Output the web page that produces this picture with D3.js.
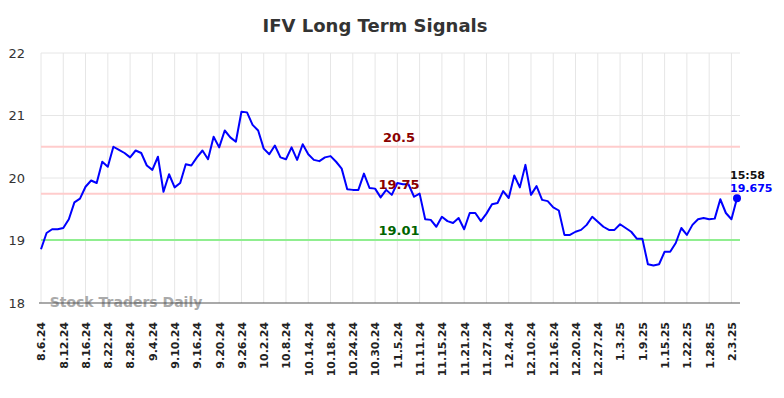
<!DOCTYPE html>
<html>
<head>
<meta charset="utf-8">
<script src="https://cdn.jsdelivr.net/npm/d3@7"></script>
<style>
  body { margin: 0; background: #fff; }
  text { font-family: "DejaVu Sans", sans-serif; }
</style>
</head>
<body>
<div id="chart"></div>
<script>
(function () {

    // tick labels, one every 4 trading days
    var tickLabels = ["8.6.24", "8.12.24", "8.16.24", "8.22.24", "8.28.24", "9.4.24", "9.10.24", "9.16.24",
        "9.20.24", "9.26.24", "10.2.24", "10.8.24", "10.14.24", "10.18.24", "10.24.24", "10.30.24",
        "11.5.24", "11.11.24", "11.15.24", "11.21.24", "11.27.24", "12.4.24", "12.10.24", "12.16.24",
        "12.20.24", "12.27.24", "1.3.25", "1.9.25", "1.15.25", "1.22.25", "1.28.25", "2.3.25"];

    // daily closing prices
    var prices = [
        18.86, 19.12, 19.18, 19.18, 19.20, 19.34, 19.61, 19.67, 19.86, 19.96,
        19.92, 20.26, 20.18, 20.50, 20.45, 20.40, 20.33, 20.44, 20.40, 20.20,
        20.13, 20.34, 19.78, 20.06, 19.85, 19.92, 20.22, 20.20, 20.33, 20.44,
        20.30, 20.66, 20.49, 20.76, 20.65, 20.58, 21.06, 21.05, 20.85, 20.76,
        20.47, 20.38, 20.52, 20.33, 20.30, 20.49, 20.29, 20.54, 20.38, 20.29,
        20.27, 20.33, 20.35, 20.26, 20.15, 19.82, 19.81, 19.81, 20.07, 19.84,
        19.83, 19.69, 19.81, 19.73, 19.92, 19.90, 19.90, 19.70, 19.75, 19.34,
        19.33, 19.22, 19.38, 19.31, 19.28, 19.36, 19.18, 19.44, 19.44, 19.31,
        19.43, 19.58, 19.60, 19.79, 19.68, 20.04, 19.85, 20.21, 19.73, 19.87,
        19.65, 19.63, 19.53, 19.48, 19.09, 19.09, 19.14, 19.17, 19.25, 19.38,
        19.30, 19.22, 19.17, 19.17, 19.26, 19.20, 19.14, 19.03, 19.03, 18.62,
        18.60, 18.62, 18.82, 18.82, 18.96, 19.20, 19.09, 19.25, 19.34, 19.36,
        19.34, 19.35, 19.66, 19.44, 19.34, 19.675
    ];

    // signal levels
    var levels = [
        { value: 20.5, label: "20.5", line: "#ffcccc", text: "#8b0000" },
        { value: 19.75, label: "19.75", line: "#ffcccc", text: "#8b0000" },
        { value: 19.01, label: "19.01", line: "#90ee90", text: "#006400" }
    ];

    var yTicks = [18, 19, 20, 21, 22];
    var lastTime = "15:58";

    var W = 784, H = 398;
    var left = 41, right = 740, top = 53, bottom = 303;

    var svg = d3.select("#chart")
        .append("svg")
        .attr("width", W)
        .attr("height", H);

    var x = d3.scaleLinear()
        .domain([0, prices.length - 1])
        .range([left, 737]);

    var y = d3.scaleLinear()
        .domain([18, 22])
        .range([bottom, top]);

    var tickIdx = tickLabels.map(function (d, i) { return i * 4; });

    // vertical grid
    svg.append("g")
        .selectAll("line")
        .data(tickIdx)
        .enter()
        .append("line")
        .attr("x1", function (d) { return x(d); })
        .attr("x2", function (d) { return x(d); })
        .attr("y1", top)
        .attr("y2", bottom)
        .attr("stroke", "#e6e6e6")
        .attr("stroke-width", 1);

    // horizontal grid
    svg.append("g")
        .selectAll("line")
        .data(yTicks.slice(1))
        .enter()
        .append("line")
        .attr("x1", left)
        .attr("x2", right)
        .attr("y1", function (d) { return y(d); })
        .attr("y2", function (d) { return y(d); })
        .attr("stroke", "#e6e6e6")
        .attr("stroke-width", 1);

    // y axis labels
    var yAxis = svg.append("g")
        .attr("transform", "translate(" + (left - 14) + ",0)")
        .call(d3.axisLeft(y).tickValues(yTicks).tickSize(0).tickFormat(d3.format("d")));
    yAxis.select(".domain").remove();
    yAxis.selectAll("text")
        .attr("fill", "#333")
        .style("font-size", "13px")
        .attr("x", -2);

    // x axis labels
    var xAxis = svg.append("g")
        .attr("transform", "translate(0," + bottom + ")")
        .call(d3.axisBottom(x).tickValues(tickIdx).tickSize(0)
            .tickFormat(function (d) { return tickLabels[d / 4]; }));
    xAxis.select(".domain").remove();
    xAxis.selectAll("text")
        .attr("fill", "#222")
        .style("font-size", "11px")
        .style("font-weight", "bold")
        .attr("transform", "rotate(-90)")
        .attr("text-anchor", "end")
        .attr("x", -19)
        .attr("y", 0)
        .attr("dy", "0.35em");

    // watermark
    svg.append("text")
        .attr("x", 126)
        .attr("y", 307)
        .attr("text-anchor", "middle")
        .attr("fill", "#aaa")
        .style("font-size", "14px")
        .style("font-weight", "bold")
        .text("Stock Traders Daily");

    // bottom axis line
    svg.append("line")
        .attr("x1", 39)
        .attr("x2", right)
        .attr("y1", bottom)
        .attr("y2", bottom)
        .attr("stroke", "#555")
        .attr("stroke-width", 1.2);

    // signal lines
    svg.append("g")
        .selectAll("line")
        .data(levels)
        .enter()
        .append("line")
        .attr("x1", left)
        .attr("x2", right)
        .attr("y1", function (d) { return y(d.value); })
        .attr("y2", function (d) { return y(d.value); })
        .attr("stroke", function (d) { return d.line; })
        .attr("stroke-width", 2);

    // price line
    var line = d3.line()
        .x(function (d, i) { return x(i); })
        .y(function (d) { return y(d); });

    svg.append("path")
        .datum(prices)
        .attr("d", line)
        .attr("fill", "none")
        .attr("stroke", "#0000ff")
        .attr("stroke-width", 2)
        .attr("stroke-linejoin", "round");

    // signal labels
    svg.append("g")
        .selectAll("text")
        .data(levels)
        .enter()
        .append("text")
        .attr("x", 399)
        .attr("y", function (d) { return y(d.value) - 5; })
        .attr("text-anchor", "middle")
        .attr("fill", function (d) { return d.text; })
        .style("font-size", "13px")
        .style("font-weight", "bold")
        .text(function (d) { return d.label; });

    // last point
    var li = prices.length - 1;
    svg.append("circle")
        .attr("cx", x(li))
        .attr("cy", y(prices[li]))
        .attr("r", 4)
        .attr("fill", "#0000ff");

    svg.append("text")
        .attr("x", x(li) - 7)
        .attr("y", 179)
        .attr("fill", "#111")
        .style("font-size", "11px")
        .style("font-weight", "bold")
        .text(lastTime);

    svg.append("text")
        .attr("x", x(li) - 7)
        .attr("y", 192)
        .attr("fill", "#0000ff")
        .style("font-size", "11px")
        .style("font-weight", "bold")
        .text(prices[li]);

    // title
    svg.append("text")
        .attr("x", 375)
        .attr("y", 32)
        .attr("text-anchor", "middle")
        .attr("fill", "#333")
        .style("font-size", "18px")
        .style("font-weight", "bold")
        .text("IFV Long Term Signals");

})();
</script>
</body>
</html>
